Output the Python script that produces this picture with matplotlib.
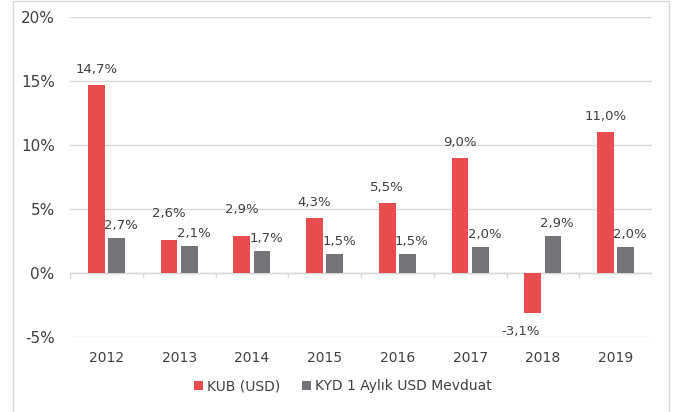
import numpy as np
import matplotlib.pyplot as plt
from matplotlib.patches import Rectangle

years = ['2012', '2013', '2014', '2015', '2016', '2017', '2018', '2019']
kub = [14.7, 2.6, 2.9, 4.3, 5.5, 9.0, -3.1, 11.0]
kyd = [2.7, 2.1, 1.7, 1.5, 1.5, 2.0, 2.9, 2.0]
series_names = ['KUB (USD)', 'KYD 1 Aylık USD Mevduat']

RED = '#E84C4F'
GRAY = '#747378'
TXT = '#404040'
GRID = '#D9D9D9'

plt.rcParams['font.family'] = ['DejaVu Sans']

fig = plt.figure(figsize=(6.75, 4.12), dpi=100)
ax = fig.add_axes([70 / 675, 1 - 337 / 412, 582 / 675, 320 / 412])

x = np.arange(len(years))
w = 0.23
off = 0.14
b1 = ax.bar(x - off, kub, w, color=RED, label=series_names[0], zorder=3)
b2 = ax.bar(x + off, kyd, w, color=GRAY, label=series_names[1], zorder=3)


def fmt(v):
    return f'{v:.1f}%'.replace('.', ',')


# red labels: lifted higher where the grey label would collide
for r, v, g in zip(b1, kub, kyd):
    cx = r.get_x() + r.get_width() / 2
    if v < 0:
        ax.annotate(fmt(v), (cx, v), xytext=(-9, -9), textcoords='offset points',
                    ha='center', va='top', fontsize=9.5, color=TXT)
    else:
        dy = 14 if v - g < 2 else 6.5
        ax.annotate(fmt(v), (cx, v), xytext=(0, dy), textcoords='offset points',
                    ha='center', va='bottom', fontsize=9.5, color=TXT)

for r, v in zip(b2, kyd):
    cx = r.get_x() + r.get_width() / 2
    ax.annotate(fmt(v), (cx, v), xytext=(3, 4.5), textcoords='offset points',
                ha='center', va='bottom', fontsize=9.5, color=TXT)

ax.set_xlim(-0.5, len(years) - 0.5)
ax.set_ylim(-5, 20)
ax.set_yticks(np.arange(-5, 21, 5))
ax.set_yticklabels([f'{t}%' for t in range(-5, 21, 5)])
ax.set_xticks(x)
ax.set_xticklabels(years)
ax.tick_params(axis='both', length=0, colors=TXT)
ax.tick_params(axis='x', pad=10, labelsize=10)
ax.tick_params(axis='y', pad=11, labelsize=11)
ax.grid(axis='y', color=GRID, lw=1, zorder=0)
for s in ax.spines.values():
    s.set_visible(False)

# zero line with category separators
ax.axhline(0, color=GRID, lw=1, zorder=2)
ax.vlines(np.arange(-0.5, len(years)), -0.4, 0, color=GRID, lw=1, zorder=2)

fig.legend(handles=[b1, b2], labels=series_names, loc='center',
           bbox_to_anchor=(343 / 675, 1 - 386 / 412), ncol=2, frameon=False,
           fontsize=10, labelcolor=TXT, handlelength=0.6, handleheight=0.6,
           handletextpad=0.3, columnspacing=1.6)

# outer chart border
fig.patches.append(Rectangle((12.5 / 675, -0.01), (669 - 12.5) / 675, 1.008,
                             transform=fig.transFigure, fill=False,
                             edgecolor=GRID, lw=1))

plt.savefig('out.png', dpi=100)
